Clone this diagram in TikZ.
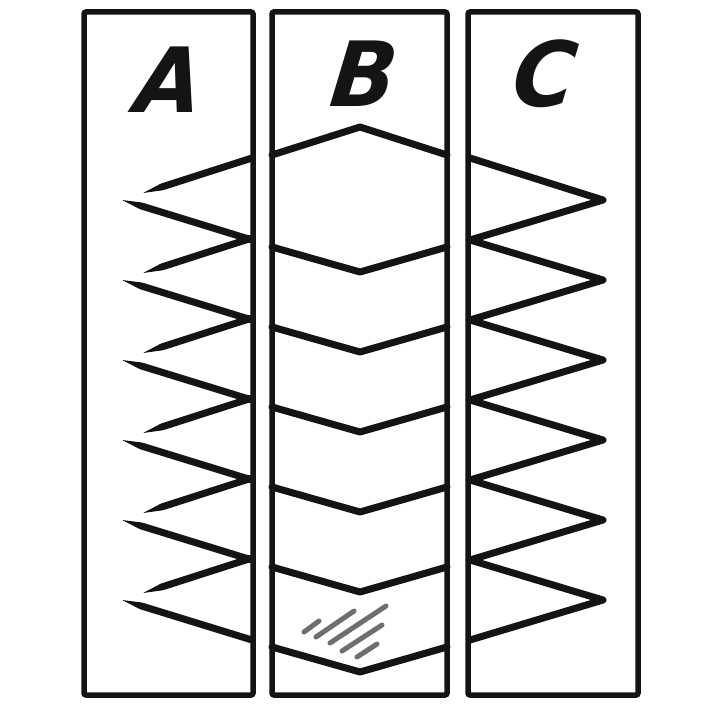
\documentclass[tikz,border=0pt]{standalone}
\usepackage{fontspec}
\newfontfamily\letterfont{DejaVu Sans}
\usetikzlibrary{calc}
\definecolor{ink}{HTML}{141414}
\definecolor{hatch}{HTML}{6E6E6E}
\tikzset{
  column/.style={draw=ink,line width=5.5pt,rounded corners=2pt},
  zig/.style={draw=ink,line width=7pt,line join=round,line cap=round},
  hatchline/.style={draw=hatch,line width=5pt,line cap=round},
  letter/.style={text=ink,font=\letterfont\bfseries\itshape\fontsize{90}{90}\selectfont,inner sep=0pt,xscale=0.95,xslant=0.12}
}
\newcommand\brushstroke[2]{%
  \path (#1) coordinate (bA) (#2) coordinate (bB);
  \path ($(bB)!20pt!(bA)$) coordinate (bT);
  \fill[ink,rounded corners=0.8pt] ($(bA)!3.5pt!90:(bB)$) -- ($(bT)!3.5pt!90:(bB)$) -- (bB) -- ($(bT)!3.5pt!-90:(bB)$) -- ($(bA)!3.5pt!-90:(bB)$) -- cycle;
}
\begin{document}
\begin{tikzpicture}[x=1pt,y=-1pt]
\useasboundingbox[fill=white] (0,0) rectangle (709,709);
% columns
\draw[column] (84,12) rectangle (253,695);
\draw[column] (272,12) rectangle (447,695);
\draw[column] (468,12) rectangle (638,695);
% letters
\node[letter] (la) at (170,80) {A};
\node[letter] (lb) at (365,74) {B};
\node[letter] (lc) at (546,74) {C};
% column A: tapered strokes
\foreach \k in {0,...,5}{
  \brushstroke{252,158+80*\k}{143,193+80*\k}
  \brushstroke{252,240+80*\k}{122,200+80*\k}
}
% column B: chevrons
\draw[zig] (272,155) -- (360,127) -- (447,155);
\foreach \k in {0,...,5}{
  \draw[zig] (272,247+80*\k) -- (360,272+80*\k) -- (447,247+80*\k);
}
% column C: zigzag
\draw[zig] (470,158) -- (603,200) -- (470,240) -- (603,280) -- (470,320) -- (603,360) -- (470,400) -- (603,440) -- (470,480) -- (603,520) -- (470,560) -- (603,600) -- (470,640);
% hatching
\draw[hatchline] (304,632) -- (319,621);
\draw[hatchline] (316,637) -- (354,611);
\draw[hatchline] (330,643) -- (386,606);
\draw[hatchline] (342,651) -- (382,625);
\draw[hatchline] (357,657) -- (377,644);
\end{tikzpicture}
\end{document}
